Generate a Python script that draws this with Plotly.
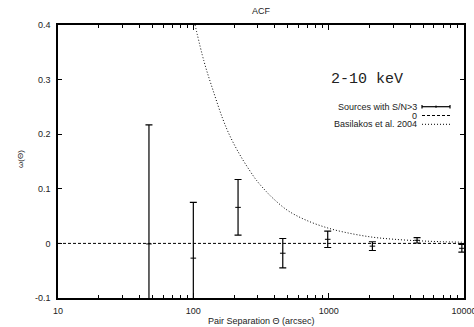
import plotly.graph_objects as go

# Data: ACF measurements (2-10 keV, S/N>3 sources)
theta = [47, 100, 214, 458, 984, 2105, 4500, 9640]
omega = [-0.001, -0.027, 0.066, -0.018, 0.0075, -0.005, 0.0057, -0.009]
omega_err = [0.218, 0.102, 0.051, 0.027, 0.015, 0.008, 0.005, 0.007]

# Zero line
zero_x = [10, 10000]
zero_y = [0, 0]

# Basilakos et al. 2004 model curve
bas_x = [103, 120, 140, 165, 187, 221, 260, 294, 340, 390, 500, 689, 1023, 1500, 2138, 3000, 4500, 6500, 10000]
bas_y = [0.400, 0.333, 0.280, 0.228, 0.196, 0.162, 0.134, 0.115, 0.097, 0.082, 0.060, 0.042, 0.0270, 0.0175, 0.0112, 0.0077, 0.0049, 0.0033, 0.0021]

x_tickvals = [10, 100, 1000, 10000]
x_ticktext = ["10", "100", "1000", "10000"]
y_tickvals = [-0.1, 0, 0.1, 0.2, 0.3, 0.4]
y_ticktext = ["-0.1", "0", "0.1", "0.2", "0.3", "0.4"]

legend_labels = ["Sources with S/N>3", "0", "Basilakos et al. 2004"]

FONT = "Liberation Sans, Arial, sans-serif"
TXT = "#222"
W, H = 474, 327
ML, MR, MT, MB = 58, 10, 25, 29

fig = go.Figure()
fig.add_trace(go.Scatter(
    x=zero_x, y=zero_y, mode="lines",
    line=dict(color="black", width=1, dash="3px,2px"), showlegend=False))
fig.add_trace(go.Scatter(
    x=bas_x, y=bas_y, mode="lines", line_shape="spline",
    line=dict(color="black", width=1, dash="1px,2px"), showlegend=False))
fig.add_trace(go.Scatter(
    x=theta, y=omega, mode="markers",
    marker=dict(symbol="line-ew", size=4, color="black", line=dict(width=1, color="black")),
    error_y=dict(type="data", array=omega_err, color="black", thickness=1.2, width=3.5),
    showlegend=False))

axis_common = dict(
    showline=True, linecolor="black", linewidth=1.5, mirror="allticks",
    ticks="inside", tickcolor="black", showgrid=False, zeroline=False,
    automargin=False, ticklabeloverflow="allow",
    tickfont=dict(family=FONT, size=9, color=TXT),
)
fig.update_xaxes(
    type="log", range=[1, 4], tickvals=x_tickvals, ticktext=x_ticktext,
    ticklen=5, ticklabelstandoff=3,
    minor=dict(ticks="inside", ticklen=3, tickcolor="black", dtick="D1"),
    **axis_common)
fig.update_yaxes(
    range=[-0.1, 0.4], tickvals=y_tickvals, ticktext=y_ticktext, ticklen=4,
    ticklabelstandoff=4,
    **axis_common)


def px(xp):
    return (xp - ML) / (W - ML - MR)


def py(yp):
    return (H - yp - MB) / (H - MT - MB)


annotations = [
    dict(text="ACF", x=px(261), xref="paper", y=py(11.5), yref="paper", yanchor="middle",
         showarrow=False, font=dict(family=FONT, size=9, color=TXT)),
    dict(text="Pair Separation \u0398 (arcsec)", x=px(261), xref="paper", y=py(320.5), yref="paper",
         yanchor="middle", showarrow=False, font=dict(family=FONT, size=9, color=TXT)),
    dict(text="\u03c9(\u0398)", x=px(20), xref="paper", xanchor="center",
         y=py(159), yref="paper", yanchor="middle", textangle=-90,
         showarrow=False, font=dict(family=FONT, size=8, color=TXT)),
    dict(text="2-10 keV", x=px(366.5), xref="paper", xanchor="center",
         y=py(80), yref="paper", yanchor="middle", showarrow=False,
         font=dict(family="Liberation Mono, Courier New, monospace", size=15, color=TXT)),
]

shapes = []
leg_rows = [106.7, 115.5, 124.3]
sx0, sx1 = 422, 450
for lab, yr in zip(legend_labels, leg_rows):
    annotations.append(dict(text=lab, x=px(419), xref="paper", y=py(yr), yref="paper",
                            xanchor="right", yanchor="middle", showarrow=False,
                            font=dict(family=FONT, size=9, color=TXT)))
r0 = leg_rows[0]
shapes.append(dict(type="line", xref="paper", yref="paper", x0=px(sx0), x1=px(sx1), y0=py(r0), y1=py(r0), line=dict(color="black", width=1.2)))
for xs in (sx0, sx1):
    shapes.append(dict(type="line", xref="paper", yref="paper", x0=px(xs), x1=px(xs), y0=py(r0 - 1.8), y1=py(r0 + 1.8), line=dict(color="black", width=1.2)))
shapes.append(dict(type="line", xref="paper", yref="paper", x0=px(436), x1=px(436), y0=py(r0 - 1.2), y1=py(r0 + 1.2), line=dict(color="black", width=1)))
shapes.append(dict(type="line", xref="paper", yref="paper", x0=px(sx0), x1=px(sx1), y0=py(leg_rows[1]), y1=py(leg_rows[1]), line=dict(color="black", width=1, dash="3px,2px")))
shapes.append(dict(type="line", xref="paper", yref="paper", x0=px(sx0), x1=px(sx1), y0=py(leg_rows[2]), y1=py(leg_rows[2]), line=dict(color="black", width=1, dash="1px,2px")))

fig.update_layout(
    width=W, height=H, margin=dict(l=ML, r=MR, t=MT, b=MB, autoexpand=False),
    paper_bgcolor="white", plot_bgcolor="white",
    showlegend=False, annotations=annotations, shapes=shapes,
)
fig.write_html("out.html")
